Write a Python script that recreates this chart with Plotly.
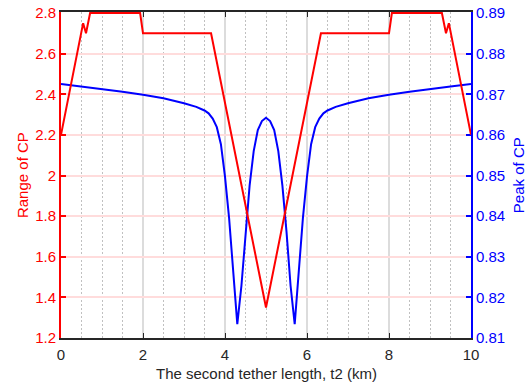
import plotly.graph_objects as go

# Range of CP (left axis)
t2_red = [0, 0.54, 0.61, 0.71, 1.93, 2.0, 3.66, 5.0, 6.34, 8.0, 8.07, 9.29, 9.39, 9.46, 10]
range_cp = [2.2, 2.75, 2.70, 2.80, 2.80, 2.70, 2.70, 1.35, 2.70, 2.70, 2.80, 2.80, 2.70, 2.75, 2.2]

# Peak of CP (right axis)
t2_blue = [0, 0.5, 1, 1.5, 2, 2.5, 3, 3.3, 3.5, 3.6, 3.7, 3.8, 3.9, 4.0, 4.1, 4.2, 4.3,
           4.4, 4.5, 4.6, 4.7, 4.8, 4.9, 5.0, 5.1, 5.2, 5.3, 5.4, 5.5, 5.6, 5.7,
           5.8, 5.9, 6.0, 6.1, 6.2, 6.3, 6.4, 6.5, 6.7, 7, 7.5, 8, 8.5, 9, 9.5, 10]
peak_cp = [0.8725, 0.8719, 0.8713, 0.8706, 0.8699, 0.8690, 0.8678, 0.8669, 0.8660, 0.8653,
           0.8640, 0.8619, 0.8577, 0.8497, 0.8395, 0.8270, 0.8134,
           0.8228, 0.8362, 0.8475, 0.8560, 0.8612, 0.8634, 0.8642, 0.8634, 0.8612, 0.8560,
           0.8475, 0.8362, 0.8228, 0.8134,
           0.8270, 0.8395, 0.8497, 0.8577, 0.8619, 0.8640, 0.8653, 0.8660, 0.8669, 0.8678,
           0.8690, 0.8699, 0.8706, 0.8713, 0.8719, 0.8725]

x_ticks = [0, 2, 4, 6, 8, 10]
left_ticks = [1.2, 1.4, 1.6, 1.8, 2.0, 2.2, 2.4, 2.6, 2.8]
left_labels = ["1.2", "1.4", "1.6", "1.8", "2", "2.2", "2.4", "2.6", "2.8"]
right_ticks = [0.81, 0.82, 0.83, 0.84, 0.85, 0.86, 0.87, 0.88, 0.89]

FONT = "Liberation Sans, Arial, sans-serif"
FS = 15

# 1px of headroom so the red line lying on the top limit is not clipped
PLOT_H = 326
left_lo, left_hi = 1.2, 2.8
right_lo, right_hi = 0.81, 0.89
left_pad = (left_hi - left_lo) / (PLOT_H - 1)
right_pad = (right_hi - right_lo) / (PLOT_H - 1)

fig = go.Figure()
# blue on main y (right side), red on overlay y2 (left side) so red draws on top
fig.add_trace(go.Scatter(x=t2_blue, y=peak_cp, mode="lines",
                         line=dict(color="#0000ff", width=2), yaxis="y",
                         showlegend=False))
fig.add_trace(go.Scatter(x=t2_red, y=range_cp, mode="lines",
                         line=dict(color="#ff0000", width=2), yaxis="y2",
                         cliponaxis=False, showlegend=False))

fig.update_layout(
    width=531, height=388,
    margin=dict(l=61, r=60, t=12, b=50, autoexpand=False),
    paper_bgcolor="white", plot_bgcolor="white",
    font=dict(family=FONT, size=FS, color="#262626"),
    xaxis=dict(
        range=[0, 10], tickvals=x_ticks, ticks="inside", ticklen=5,
        tickcolor="#262626", showline=True, linecolor="#262626", linewidth=1.5,
        mirror="ticks", showgrid=True, gridcolor="#dcdcdc", gridwidth=1.5,
        zeroline=False, layer="below traces", automargin=False,
        ticklabelstandoff=2,
        tickfont=dict(size=FS, color="#262626"),
        minor=dict(dtick=0.5, showgrid=True, griddash="2px,2px", gridcolor="#c0c0c0",
                   gridwidth=1),
    ),
    yaxis=dict(
        range=[right_lo, right_hi + right_pad], tickvals=right_ticks, side="right",
        ticks="inside", ticklen=5, tickcolor="#0000ff", tickwidth=1.5,
        showline=True, linecolor="#0000ff", linewidth=2, automargin=False,
        showgrid=False, zeroline=False, tickformat=".2f", layer="below traces",
        tickfont=dict(size=FS, color="#0000ff"),
    ),
    yaxis2=dict(
        range=[left_lo, left_hi + left_pad], tickvals=left_ticks, ticktext=left_labels,
        overlaying="y", side="left",
        ticks="inside", ticklen=5, tickcolor="#ff0000", tickwidth=1.5,
        showline=True, linecolor="#ff0000", linewidth=2, automargin=False,
        showgrid=True, gridcolor="#ffdcdc", gridwidth=1.5, zeroline=False,
        tickfont=dict(size=FS, color="#ff0000"),
    ),
    annotations=[
        dict(text="The second tether length, t2 (km)", xref="paper", yref="paper",
             x=0.5, y=-0.11, xanchor="center", yanchor="middle", showarrow=False,
             font=dict(size=FS, color="#262626")),
        dict(text="Range of CP", xref="paper", yref="paper", x=-0.095, y=0.5,
             xanchor="center", yanchor="middle", textangle=-90, showarrow=False,
             font=dict(size=FS, color="#ff0000")),
        dict(text="Peak of CP", xref="paper", yref="paper", x=1.115, y=0.5,
             xanchor="center", yanchor="middle", textangle=-90, showarrow=False,
             font=dict(size=FS, color="#0000ff")),
    ],
)

fig.write_html("out.html", config={"displayModeBar": False},
               post_script="document.body.style.margin='0px';")
